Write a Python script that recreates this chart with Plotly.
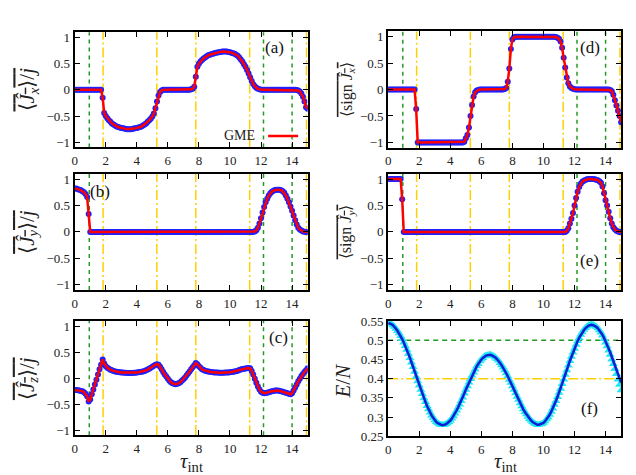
import plotly.graph_objects as go

# ---------------- data ----------------
tau = [round(0.1 * i, 1) for i in range(151)]

Jx = [0, 0, 0, 0, 0, 0, 0, 0, 0, 0,
      0, 0, 0, 0, 0, 0, 0, 0, -0.15, -0.44,
      -0.50, -0.54, -0.58, -0.61, -0.64, -0.66, -0.68, -0.70, -0.71, -0.72,
      -0.73, -0.735, -0.74, -0.745, -0.75, -0.75, -0.75, -0.745, -0.74, -0.735,
      -0.73, -0.72, -0.71, -0.70, -0.68, -0.66, -0.64, -0.61, -0.58, -0.55,
      -0.51, -0.45, -0.35, -0.22, -0.11, -0.04, -0.01, 0, 0, 0,
      0, 0, 0, 0, 0, 0, 0, 0, 0, 0,
      0, 0, 0, 0, 0, 0.01, 0.02, 0.06, 0.25, 0.44,
      0.50, 0.54, 0.57, 0.60, 0.62, 0.64, 0.66, 0.67, 0.68, 0.69,
      0.70, 0.71, 0.715, 0.72, 0.725, 0.73, 0.73, 0.73, 0.73, 0.725,
      0.72, 0.71, 0.70, 0.69, 0.67, 0.65, 0.62, 0.58, 0.54, 0.49,
      0.44, 0.38, 0.31, 0.24, 0.17, 0.11, 0.07, 0.04, 0.02, 0.01,
      0, 0, 0, 0, 0, 0, 0, 0, 0, 0,
      0, 0, 0, 0, 0, 0, 0, 0, 0, 0,
      0, 0, 0, -0.005, -0.01, -0.03, -0.07, -0.13, -0.22, -0.33,
      -0.36]

Jy = [0.82, 0.82, 0.81, 0.80, 0.79, 0.77, 0.75, 0.72, 0.66, 0.34,
      0, 0, 0, 0, 0, 0, 0, 0, 0, 0,
      0, 0, 0, 0, 0, 0, 0, 0, 0, 0,
      0, 0, 0, 0, 0, 0, 0, 0, 0, 0,
      0, 0, 0, 0, 0, 0, 0, 0, 0, 0,
      0, 0, 0, 0, 0, 0, 0, 0, 0, 0,
      0, 0, 0, 0, 0, 0, 0, 0, 0, 0,
      0, 0, 0, 0, 0, 0, 0, 0, 0, 0,
      0, 0, 0, 0, 0, 0, 0, 0, 0, 0,
      0, 0, 0, 0, 0, 0, 0, 0, 0, 0,
      0, 0, 0, 0, 0, 0, 0, 0, 0, 0,
      0, 0, 0, 0, 0, 0.005, 0.01, 0.03, 0.08, 0.16,
      0.26, 0.37, 0.47, 0.56, 0.63, 0.69, 0.73, 0.76, 0.78, 0.795,
      0.80, 0.80, 0.80, 0.79, 0.77, 0.74, 0.69, 0.63, 0.56, 0.48,
      0.40, 0.31, 0.22, 0.14, 0.08, 0.045, 0.025, 0.01, 0.005, 0,
      0]

Jz = [-0.23, -0.23, -0.235, -0.24, -0.245, -0.25, -0.27, -0.30, -0.35, -0.45,
      -0.41, -0.31, -0.22, -0.12, -0.03, 0.07, 0.17, 0.26, 0.36, 0.28,
      0.23, 0.20, 0.18, 0.16, 0.15, 0.14, 0.13, 0.125, 0.12, 0.115,
      0.11, 0.11, 0.105, 0.105, 0.10, 0.10, 0.10, 0.10, 0.105, 0.105,
      0.11, 0.115, 0.12, 0.125, 0.13, 0.14, 0.15, 0.165, 0.18, 0.20,
      0.22, 0.24, 0.26, 0.27, 0.26, 0.22, 0.17, 0.12, 0.07, 0.03,
      -0.01, -0.05, -0.08, -0.10, -0.11, -0.115, -0.11, -0.10, -0.08, -0.05,
      -0.02, 0.01, 0.05, 0.09, 0.13, 0.17, 0.21, 0.25, 0.29, 0.27,
      0.23, 0.20, 0.17, 0.155, 0.145, 0.135, 0.13, 0.125, 0.12, 0.115,
      0.11, 0.11, 0.11, 0.105, 0.105, 0.105, 0.105, 0.11, 0.11, 0.11,
      0.115, 0.12, 0.125, 0.13, 0.135, 0.145, 0.155, 0.165, 0.175, 0.18,
      0.185, 0.19, 0.195, 0.19, 0.14, 0.07, -0.01, -0.09, -0.16, -0.22,
      -0.26, -0.28, -0.29, -0.285, -0.28, -0.27, -0.26, -0.25, -0.245, -0.24,
      -0.24, -0.24, -0.245, -0.25, -0.26, -0.27, -0.28, -0.29, -0.30, -0.31,
      -0.29, -0.24, -0.18, -0.12, -0.06, -0.01, 0.04, 0.08, 0.12, 0.15,
      0.19]

SJx = [0, 0, 0, 0, 0, 0, 0, 0, 0, 0,
       0, 0, 0, 0, 0, 0, 0, 0, -0.37, -1.0,
       -1, -1, -1, -1, -1, -1, -1, -1, -1, -1,
       -1, -1, -1, -1, -1, -1, -1, -1, -1, -1,
       -1, -1, -1, -1, -1, -1, -1, -1, -1, -0.99,
       -0.92, -0.86, -0.72, -0.50, -0.29, -0.13, -0.05, -0.02, -0.01, 0,
       0, 0, 0, 0, 0, 0, 0, 0, 0, 0,
       0, 0, 0, 0, 0, 0.01, 0.03, 0.15, 0.40, 0.77,
       0.95, 0.99, 1, 1, 1, 1, 1, 1, 1, 1,
       1, 1, 1, 1, 1, 1, 1, 1, 1, 1,
       1, 1, 1, 1, 1, 1, 1, 1, 0.995, 0.98,
       0.96, 0.91, 0.79, 0.60, 0.42, 0.23, 0.12, 0.06, 0.03, 0.015,
       0.005, 0, 0, 0, 0, 0, 0, 0, 0, 0,
       0, 0, 0, 0, 0, 0, 0, 0, 0, 0,
       0, 0, 0, -0.01, -0.03, -0.10, -0.20, -0.30, -0.40, -0.50,
       -0.62]

SJy = [1, 1, 1, 1, 1, 1, 1, 1, 1, 0.62,
       0, 0, 0, 0, 0, 0, 0, 0, 0, 0,
       0, 0, 0, 0, 0, 0, 0, 0, 0, 0,
       0, 0, 0, 0, 0, 0, 0, 0, 0, 0,
       0, 0, 0, 0, 0, 0, 0, 0, 0, 0,
       0, 0, 0, 0, 0, 0, 0, 0, 0, 0,
       0, 0, 0, 0, 0, 0, 0, 0, 0, 0,
       0, 0, 0, 0, 0, 0, 0, 0, 0, 0,
       0, 0, 0, 0, 0, 0, 0, 0, 0, 0,
       0, 0, 0, 0, 0, 0, 0, 0, 0, 0,
       0, 0, 0, 0, 0, 0, 0, 0, 0, 0,
       0, 0, 0, 0, 0, 0.02, 0.07, 0.16, 0.25, 0.36,
       0.50, 0.64, 0.76, 0.85, 0.91, 0.95, 0.97, 0.985, 0.995, 1.0,
       1, 1, 1, 0.995, 0.99, 0.98, 0.96, 0.93, 0.86, 0.73,
       0.60, 0.50, 0.38, 0.26, 0.16, 0.09, 0.05, 0.02, 0.01, 0,
       0]

E_line = [0.545, 0.544, 0.542, 0.539, 0.535, 0.530, 0.524, 0.518, 0.511, 0.503,
          0.494, 0.485, 0.475, 0.465, 0.454, 0.442, 0.430, 0.418, 0.405, 0.393,
          0.382, 0.371, 0.360, 0.349, 0.339, 0.329, 0.320, 0.312, 0.304, 0.298,
          0.292, 0.287, 0.284, 0.281, 0.280, 0.279, 0.280, 0.281, 0.284, 0.287,
          0.291, 0.296, 0.302, 0.309, 0.317, 0.325, 0.333, 0.342, 0.351, 0.361,
          0.371, 0.380, 0.390, 0.399, 0.408, 0.416, 0.424, 0.432, 0.438, 0.445,
          0.450, 0.454, 0.458, 0.460, 0.461, 0.462, 0.462, 0.460, 0.458, 0.455,
          0.451, 0.447, 0.441, 0.435, 0.429, 0.422, 0.414, 0.406, 0.397, 0.389,
          0.380, 0.371, 0.362, 0.353, 0.345, 0.336, 0.328, 0.320, 0.313, 0.307,
          0.301, 0.295, 0.291, 0.287, 0.284, 0.282, 0.280, 0.280, 0.281, 0.282,
          0.285, 0.289, 0.294, 0.299, 0.306, 0.314, 0.322, 0.332, 0.342, 0.352,
          0.363, 0.374, 0.386, 0.398, 0.410, 0.422, 0.434, 0.446, 0.457, 0.468,
          0.478, 0.488, 0.498, 0.506, 0.514, 0.521, 0.526, 0.531, 0.535, 0.538,
          0.539, 0.540, 0.539, 0.538, 0.535, 0.531, 0.526, 0.521, 0.514, 0.506,
          0.498, 0.488, 0.478, 0.468, 0.457, 0.446, 0.434, 0.422, 0.410, 0.398,
          0.390]

E_markers = [0.545, 0.544, 0.542, 0.539, 0.535, 0.530, 0.524, 0.518, 0.511, 0.503,
             0.494, 0.485, 0.475, 0.465, 0.454, 0.442, 0.430, 0.418, 0.405, 0.393,
             0.382, 0.371, 0.360, 0.349, 0.339, 0.329, 0.320, 0.312, 0.304, 0.298,
             0.292, 0.287, 0.284, 0.281, 0.280, 0.279, 0.280, 0.281, 0.284, 0.287,
             0.291, 0.296, 0.302, 0.309, 0.317, 0.325, 0.333, 0.342, 0.351, 0.361,
             0.371, 0.380, 0.390, 0.399, 0.408, 0.416, 0.424, 0.432, 0.438, 0.445,
             0.450, 0.454, 0.458, 0.460, 0.461, 0.462, 0.462, 0.460, 0.458, 0.455,
             0.451, 0.447, 0.441, 0.435, 0.429, 0.422, 0.414, 0.406, 0.397, 0.389,
             0.380, 0.371, 0.362, 0.353, 0.345, 0.336, 0.328, 0.320, 0.313, 0.307,
             0.301, 0.295, 0.291, 0.287, 0.284, 0.282, 0.280, 0.280, 0.281, 0.282,
             0.285, 0.289, 0.294, 0.299, 0.306, 0.314, 0.322, 0.332, 0.342, 0.352,
             0.363, 0.374, 0.386, 0.398, 0.410, 0.422, 0.434, 0.446, 0.457, 0.468,
             0.478, 0.488, 0.498, 0.506, 0.514, 0.521, 0.527, 0.532, 0.536, 0.539,
             0.540, 0.541, 0.540, 0.538, 0.535, 0.531, 0.526, 0.520, 0.512, 0.503,
             0.494, 0.484, 0.473, 0.462, 0.450, 0.438, 0.425, 0.412, 0.398, 0.384,
             0.370]

green_tau = [0.94, 12.16, 14.0]
yellow_tau = [1.83, 5.29, 7.8, 11.27, 14.93]
green_E = 0.5
yellow_E = 0.4

x_ticks = [0, 2, 4, 6, 8, 10, 12, 14]
y_ticks = [-1, -0.5, 0, 0.5, 1]
E_ticks = [0.25, 0.3, 0.35, 0.4, 0.45, 0.5, 0.55]
E_tick_text = ["0.25", "0.3", "0.35", "0.4", "0.45", "0.5", "0.55"]

# ---------------- styling ----------------
SERIF = "Liberation Serif"
BLUE_DOT = "#2020ff"
RED = "#ff0000"
GREEN = "#229922"
YELLOW = "#ffd000"
CYAN = "#22e6f0"
BLUE_LINE = "#0a1ed8"

W, H = 636, 475
def px_x(a, b):
    return [a / W, b / W]
def px_y(top, bot):
    return [1 - bot / H, 1 - top / H]

LX = px_x(64, 298)
RX = px_x(379, 613)
dom = {
    1: (LX, px_y(17.8, 136.8)),   # (a)
    2: (LX, px_y(164, 284)),      # (b)
    3: (LX, px_y(316, 434)),      # (c)
    4: (RX, px_y(17, 137)),       # (d)
    5: (RX, px_y(164, 284)),      # (e)
    6: (RX, px_y(316, 435)),      # (f)
}

fig = go.Figure()

def ax(k):
    return ("x" if k == 1 else f"x{k}"), ("y" if k == 1 else f"y{k}")

panels = [(1, Jx), (2, Jy), (3, Jz), (4, SJx), (5, SJy)]
for k, vals in panels:
    xa, ya = ax(k)
    fig.add_trace(go.Scatter(x=tau, y=vals, mode="markers", xaxis=xa, yaxis=ya,
                             marker=dict(color=BLUE_DOT, size=6, line=dict(width=0)),
                             showlegend=False, hoverinfo="skip"))
    fig.add_trace(go.Scatter(x=tau, y=vals, mode="lines", xaxis=xa, yaxis=ya,
                             line=dict(color=RED, width=2.5),
                             name=" ", showlegend=(k == 1), hoverinfo="skip"))

xa, ya = ax(6)
fig.add_trace(go.Scatter(x=tau, y=E_markers, mode="markers", xaxis=xa, yaxis=ya,
                         marker=dict(color=CYAN, size=8, symbol="triangle-up",
                                     line=dict(width=0)),
                         showlegend=False, hoverinfo="skip"))
fig.add_trace(go.Scatter(x=tau, y=E_line, mode="lines", xaxis=xa, yaxis=ya,
                         line=dict(color=BLUE_LINE, width=2.5),
                         showlegend=False, hoverinfo="skip"))

shapes = []
for k in range(1, 6):
    xa, ya = ax(k)
    for v in green_tau:
        shapes.append(dict(type="line", xref=xa, yref=f"{ya} domain", x0=v, x1=v,
                           y0=0, y1=1, layer="below",
                           line=dict(color=GREEN, width=1.5, dash="4px,4px")))
    for v in yellow_tau:
        shapes.append(dict(type="line", xref=xa, yref=f"{ya} domain", x0=v, x1=v,
                           y0=0, y1=1, layer="below",
                           line=dict(color=YELLOW, width=1.5, dash="10px,3px,2px,3px")))
xa, ya = ax(6)
shapes.append(dict(type="line", xref=f"{xa} domain", yref=ya, x0=0, x1=1,
                   y0=green_E, y1=green_E, layer="below",
                   line=dict(color=GREEN, width=1.5, dash="5px,4px")))
shapes.append(dict(type="line", xref=f"{xa} domain", yref=ya, x0=0, x1=1,
                   y0=yellow_E, y1=yellow_E, layer="below",
                   line=dict(color=YELLOW, width=1.5, dash="10px,3px,2px,3px")))

layout = dict(width=W, height=H, margin=dict(l=0, r=0, t=0, b=0),
              paper_bgcolor="white", plot_bgcolor="white",
              font=dict(family=SERIF, size=12, color="black"),
              shapes=shapes, showlegend=True,
              legend=dict(x=212 / W, y=1 - 125 / H, xanchor="left", yanchor="middle",
                          bgcolor="rgba(0,0,0,0)", borderwidth=0,
                          title=dict(text="GME", side="left",
                                     font=dict(family=SERIF, size=14, color="#222")),
                          font=dict(family=SERIF, size=10), itemwidth=30,
                          tracegroupgap=0))

for k in range(1, 7):
    xd, yd = dom[k]
    xname = "xaxis" if k == 1 else f"xaxis{k}"
    yname = "yaxis" if k == 1 else f"yaxis{k}"
    xa, ya = ax(k)
    layout[xname] = dict(domain=xd, anchor=ya, range=[0, 15], tickvals=x_ticks,
                         ticks="inside", ticklen=5, tickwidth=1.2, tickcolor="black",
                         showline=True, linewidth=2, linecolor="black", mirror="ticks",
                         showgrid=False, zeroline=False,
                         tickfont=dict(family=SERIF, size=13, color="#222"))
    if k == 6:
        yr, yt, ytt = [0.25, 0.55], E_ticks, E_tick_text
    else:
        yr, yt, ytt = [-1.1, 1.1], y_ticks, None
    yd_ = dict(domain=yd, anchor=xa, range=yr, tickvals=yt,
               ticks="inside", ticklen=5, tickwidth=1.2, tickcolor="black",
               showline=True, linewidth=2, linecolor="black", mirror="ticks",
               showgrid=False, zeroline=False,
               tickfont=dict(family=SERIF, size=13, color="#222"))
    if ytt is not None:
        yd_["ticktext"] = ytt
    layout[yname] = yd_

fig.update_layout(**layout)

OV = "<span style='text-decoration:overline'>"
ylabels = [
    (17, 77, OV + "⟨<i>Ĵ<sub>x</sub></i>⟩/<i>j</i></span>", 21),
    (17, 224, OV + "⟨<i>Ĵ<sub>y</sub></i>⟩/<i>j</i></span>", 21),
    (17, 375, OV + "⟨<i>Ĵ<sub>z</sub></i>⟩/<i>j</i></span>", 21),
    (337, 77, OV + "⟨sign <i>Ĵ<sub>x</sub></i>⟩</span>", 16),
    (337, 224, OV + "⟨sign <i>Ĵ<sub>y</sub></i>⟩</span>", 16),
    (334, 378, "<i>E</i>/<i>N</i>", 21),
]
for x, y, t, s in ylabels:
    fig.add_annotation(x=x / W, y=1 - y / H, xref="paper", yref="paper", text=t,
                       textangle=-90, showarrow=False, xanchor="center", yanchor="middle",
                       font=dict(family=SERIF, size=s, color="#222"))

for x in (181, 497):
    fig.add_annotation(x=x / W, y=1 - 462 / H, xref="paper", yref="paper",
                       text="<i>τ</i><sub>int</sub>", showarrow=False,
                       xanchor="center", yanchor="middle",
                       font=dict(family=SERIF, size=21, color="#222"))

panel_labels = [(1, 12.9, 0.81, "(a)"), (2, 1.66, 0.77, "(b)"), (3, 13.1, 0.78, "(c)"),
                (4, 12.97, 0.80, "(d)"), (5, 12.97, -0.54, "(e)"), (6, 12.97, 0.321, "(f)")]
for k, x, y, t in panel_labels:
    xa, ya = ax(k)
    fig.add_annotation(x=x, y=y, xref=xa, yref=ya, text=t, showarrow=False,
                       xanchor="center", yanchor="middle",
                       font=dict(family=SERIF, size=17, color="#111"))

fig.write_html("out.html")
